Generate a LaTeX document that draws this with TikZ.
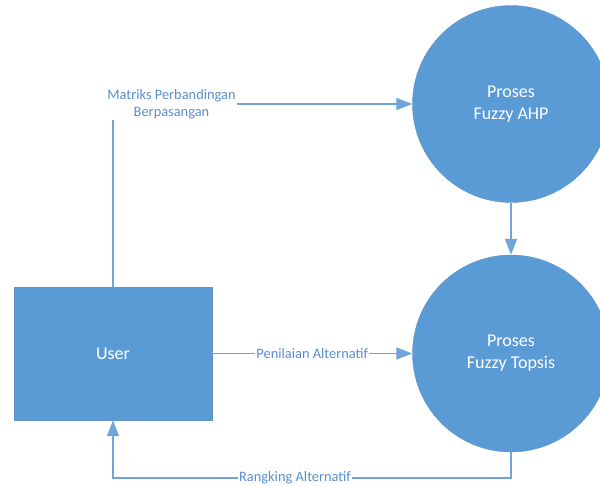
\documentclass[tikz,border=0pt]{standalone}
\usepackage{fontspec}
\setmainfont{Carlito}
\usetikzlibrary{arrows.meta, positioning}
\definecolor{dfdblue}{HTML}{5B9BD5}
\definecolor{dfdline}{HTML}{6FA5DB}
\definecolor{dfdtext}{HTML}{5A8ED0}

\begin{document}
\begin{tikzpicture}[x=1pt, y=-1pt,
    entity/.style={draw=dfdblue!80!gray, fill=dfdblue, text=white, minimum width=198pt, minimum height=133pt, font=\fontsize{18}{22}\selectfont},
    process/.style={circle, draw=dfdblue!80!gray, fill=dfdblue, text=white, minimum size=197pt, align=center, font=\fontsize{18}{22}\selectfont},
    flow/.style={draw=dfdline, line width=1.3pt, -{Triangle[length=16pt, width=12pt]}},
    flowlabel/.style={fill=white, text=dfdtext, inner sep=1pt, align=center, font=\fontsize{14.4}{17}\selectfont}]
    \useasboundingbox (0,0) rectangle (600,485);

    % Entity and processes
    \node[entity] (user) at (113,353.5) {User};
    \node[process] (ahp) at (511,104) {Proses\\Fuzzy AHP};
    \node[process] (topsis) at (511,353.5) {Proses\\Fuzzy Topsis};
    \coordinate (rbend) at (113,478);

    % Data flows
    \draw[flow] (user.north) |- (ahp.west);
    \node[flowlabel] (matriks) at (171.5,104.5) {Matriks Perbandingan\\Berpasangan};
    \draw[flow] (user.east) -- (topsis.west) node[flowlabel, midway] (nilai) {Penilaian Alternatif};
    \draw[flow] (ahp.south) -- (topsis.north);
    \draw[flow] (topsis.south) |- (rbend) -- (user.south);
    \node[flowlabel] (rangking) at (295,478) {Rangking Alternatif};
\end{tikzpicture}
\end{document}
